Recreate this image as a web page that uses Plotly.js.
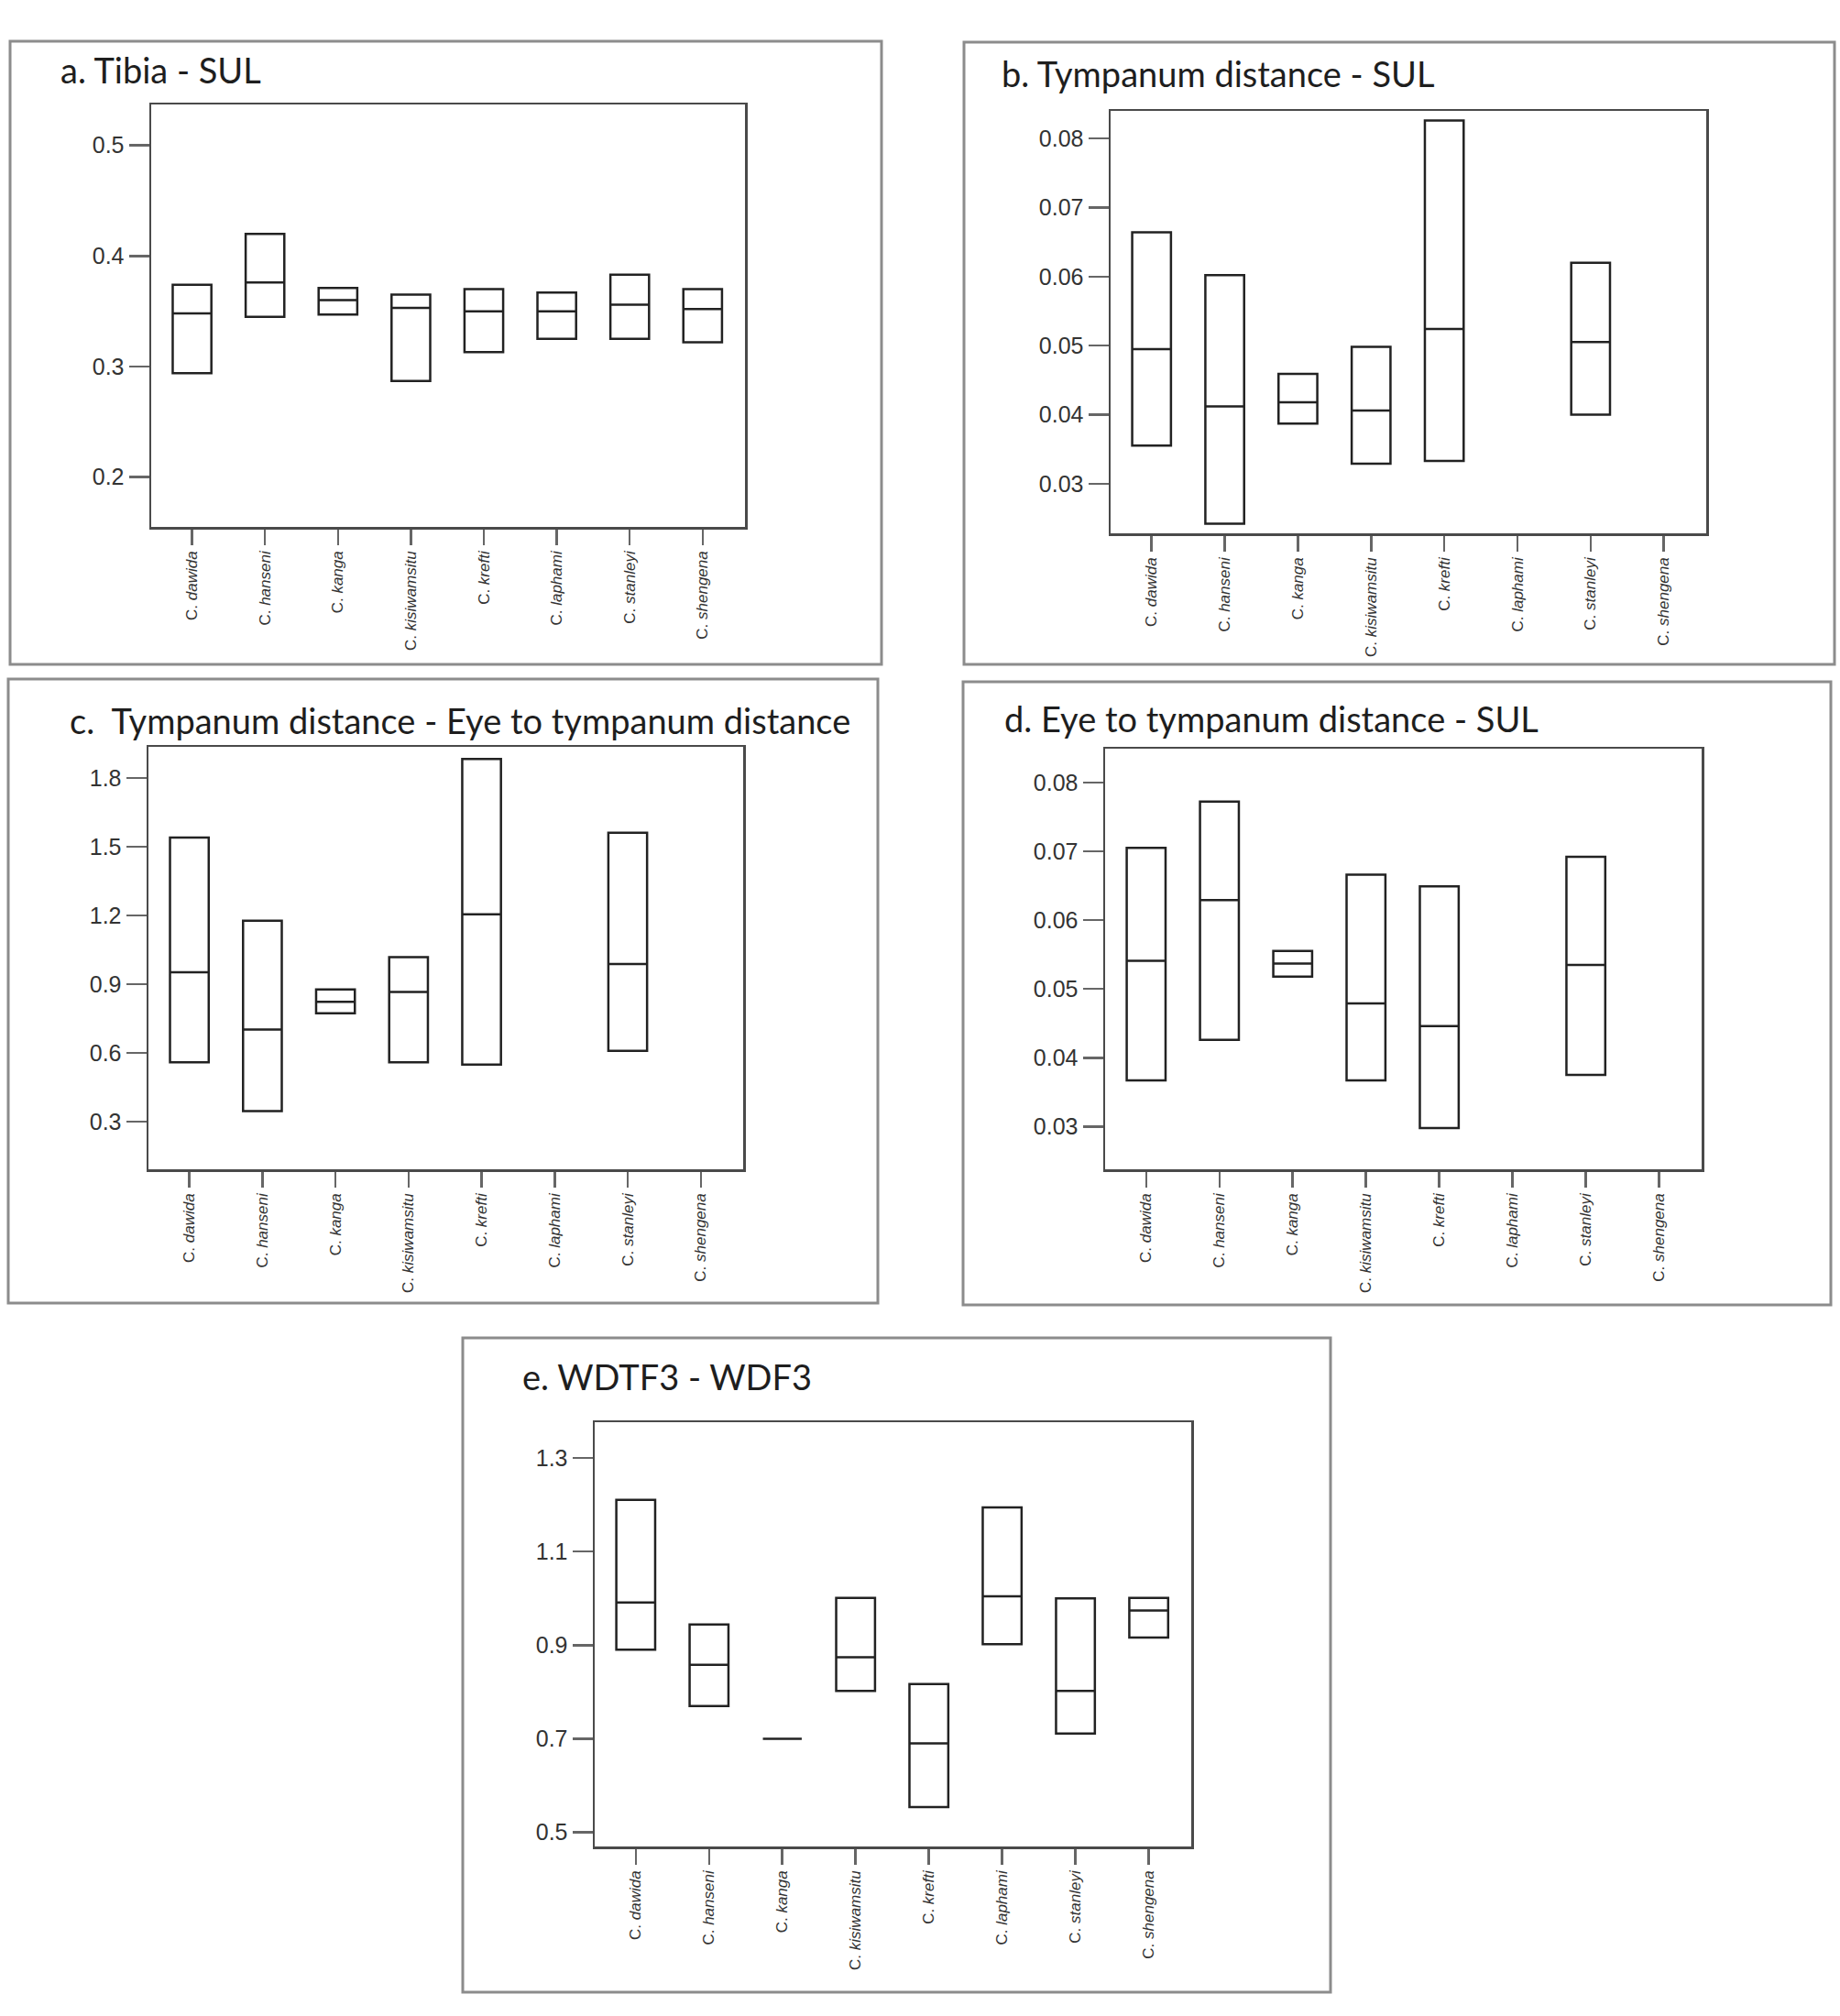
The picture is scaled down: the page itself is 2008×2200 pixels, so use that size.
<!DOCTYPE html>
<html>
<head>
<meta charset="utf-8">
<script src="https://cdn.plot.ly/plotly-3.0.1.min.js"></script>
<style>html,body{margin:0;padding:0;background:#fff;}#chart{width:2008px;height:2200px;}</style>
</head>
<body>
<div id="chart"></div>
<script>
// ---- data ----
const species = ['dawida','hanseni','kanga','kisiwamsitu','krefti','laphami','stanleyi','shengena'];
const tickLabels = species.map(s => 'C. <i>' + s + '</i>');

const titles = [
  'a. Tibia - SUL',
  'b. Tympanum distance - SUL',
  'c.  Tympanum distance - Eye to tympanum distance',
  'd. Eye to tympanum distance - SUL',
  'e. WDTF3 - WDF3'
];

// a. Tibia - SUL
const aLow  = [0.294, 0.345, 0.347, 0.287, 0.313, 0.325, 0.325, 0.322];
const aMed  = [0.348, 0.376, 0.360, 0.353, 0.350, 0.350, 0.356, 0.352];
const aHigh = [0.374, 0.420, 0.371, 0.365, 0.370, 0.367, 0.383, 0.370];
const aTicks = [0.2, 0.3, 0.4, 0.5];
const aTickText = ['0.2', '0.3', '0.4', '0.5'];

// b. Tympanum distance - SUL
const bLow  = [0.0355, 0.0242, 0.0387, 0.0329, 0.0333, null, 0.0400, null];
const bMed  = [0.0495, 0.0412, 0.0418, 0.0406, 0.0524, null, 0.0505, null];
const bHigh = [0.0664, 0.0602, 0.0459, 0.0498, 0.0826, null, 0.0620, null];
const bTicks = [0.03, 0.04, 0.05, 0.06, 0.07, 0.08];
const bTickText = ['0.03', '0.04', '0.05', '0.06', '0.07', '0.08'];

// c. Tympanum distance - Eye to tympanum distance
const cLow  = [0.559, 0.345, 0.773, 0.559, 0.548, null, 0.609, null];
const cMed  = [0.952, 0.702, 0.823, 0.866, 1.205, null, 0.988, null];
const cHigh = [1.541, 1.177, 0.877, 1.018, 1.884, null, 1.562, null];
const cTicks = [0.3, 0.6, 0.9, 1.2, 1.5, 1.8];
const cTickText = ['0.3', '0.6', '0.9', '1.2', '1.5', '1.8'];

// d. Eye to tympanum distance - SUL
const dLow  = [0.0367, 0.0426, 0.0518, 0.0367, 0.0298, null, 0.0375, null];
const dMed  = [0.0541, 0.0629, 0.0537, 0.0479, 0.0446, null, 0.0535, null];
const dHigh = [0.0705, 0.0772, 0.0555, 0.0666, 0.0649, null, 0.0692, null];
const dTicks = [0.03, 0.04, 0.05, 0.06, 0.07, 0.08];
const dTickText = ['0.03', '0.04', '0.05', '0.06', '0.07', '0.08'];

// e. WDTF3 - WDF3
const eLow  = [0.890, 0.770, 0.700, 0.802, 0.554, 0.902, 0.711, 0.916];
const eMed  = [0.991, 0.858, 0.700, 0.874, 0.690, 1.004, 0.802, 0.974];
const eHigh = [1.210, 0.944, 0.700, 1.001, 0.817, 1.194, 1.000, 1.001];
const eTicks = [0.5, 0.7, 0.9, 1.1, 1.3];
const eTickText = ['0.5', '0.7', '0.9', '1.1', '1.3'];

// ---- layout helpers ----
const W = 2008, H = 2200;
const px = v => v / W;
const py = v => 1 - v / H;

const panels = [
  {low:aLow, med:aMed, high:aHigh, ticks:aTicks, tt:aTickText, yr:[0.155, 0.537],
   plot:[165, 813, 114, 575], frame:[11, 962, 45, 725], title:[64, 76]},
  {low:bLow, med:bMed, high:bHigh, ticks:bTicks, tt:bTickText, yr:[0.0228, 0.0840],
   plot:[1212, 1862, 121, 582], frame:[1052, 2002, 46, 725], title:[1091, 80]},
  {low:cLow, med:cMed, high:cHigh, ticks:cTicks, tt:cTickText, yr:[0.091, 1.937],
   plot:[162, 811, 815, 1276], frame:[9, 958, 741, 1422], title:[74, 786]},
  {low:dLow, med:dMed, high:dHigh, ticks:dTicks, tt:dTickText, yr:[0.0238, 0.0849],
   plot:[1206, 1857, 817, 1276], frame:[1051, 1998, 744, 1424], title:[1094, 784]},
  {low:eLow, med:eMed, high:eHigh, ticks:eTicks, tt:eTickText, yr:[0.470, 1.376],
   plot:[649, 1300, 1552, 2015], frame:[505, 1452, 1460, 2174], title:[568, 1502]}
];

const traces = [];
const layout = {
  width: W, height: H,
  margin: {l:0, r:0, t:0, b:0},
  paper_bgcolor: '#fff', plot_bgcolor: '#fff',
  showlegend: false,
  shapes: [], annotations: []
};

panels.forEach((p, i) => {
  const n = i === 0 ? '' : String(i + 1);
  const xs = [], q1 = [], md = [], q3 = [];
  species.forEach((s, k) => {
    if (p.low[k] !== null) {
      xs.push(k); q1.push(p.low[k]); md.push(p.med[k]); q3.push(p.high[k]);
    }
  });
  traces.push({
    type: 'box',
    x: xs, q1: q1, median: md, q3: q3, lowerfence: q1, upperfence: q3,
    width: 0.53, whiskerwidth: 0,
    line: {color: '#222', width: 2.5},
    fillcolor: 'rgba(255,255,255,0)',
    boxpoints: false, hoverinfo: 'skip',
    xaxis: 'x' + n, yaxis: 'y' + n
  });
  const common = {
    showline: true, mirror: true, linecolor: '#4a4a4a', linewidth: 2.5,
    showgrid: false, zeroline: false, ticks: 'outside', tickcolor: '#666', tickwidth: 2.5,
    fixedrange: true
  };
  layout['xaxis' + n] = Object.assign({}, common, {
    domain: [px(p.plot[0]), px(p.plot[1])],
    anchor: 'y' + n,
    range: [-0.56, 7.58],
    tickmode: 'array', tickvals: species.map((s, k) => k), ticktext: tickLabels,
    tickangle: -90, ticklen: 17,
    tickfont: {family: 'Liberation Sans, Arial, sans-serif', size: 17, color: '#333'}
  });
  layout['yaxis' + n] = Object.assign({}, common, {
    domain: [py(p.plot[3]), py(p.plot[2])],
    anchor: 'x' + n,
    range: p.yr,
    tickmode: 'array', tickvals: p.ticks, ticktext: p.tt,
    ticklen: 22,
    tickfont: {family: 'Liberation Sans, Arial, sans-serif', size: 25, color: '#333'}
  });
  layout.shapes.push({
    type: 'rect', xref: 'paper', yref: 'paper',
    x0: px(p.frame[0]), x1: px(p.frame[1]), y0: py(p.frame[3]), y1: py(p.frame[2]),
    line: {color: '#8c8c8c', width: 3}, fillcolor: 'rgba(0,0,0,0)'
  });
  layout.annotations.push({
    text: titles[i], xref: 'paper', yref: 'paper',
    x: px(p.title[0]), y: py(p.title[1]), xanchor: 'left', yanchor: 'middle',
    showarrow: false,
    font: {family: 'Lato, Open Sans, sans-serif', size: 38, color: '#1e1e1e'}
  });
});

Plotly.newPlot('chart', traces, layout, {staticPlot: true});
</script>
</body>
</html>
